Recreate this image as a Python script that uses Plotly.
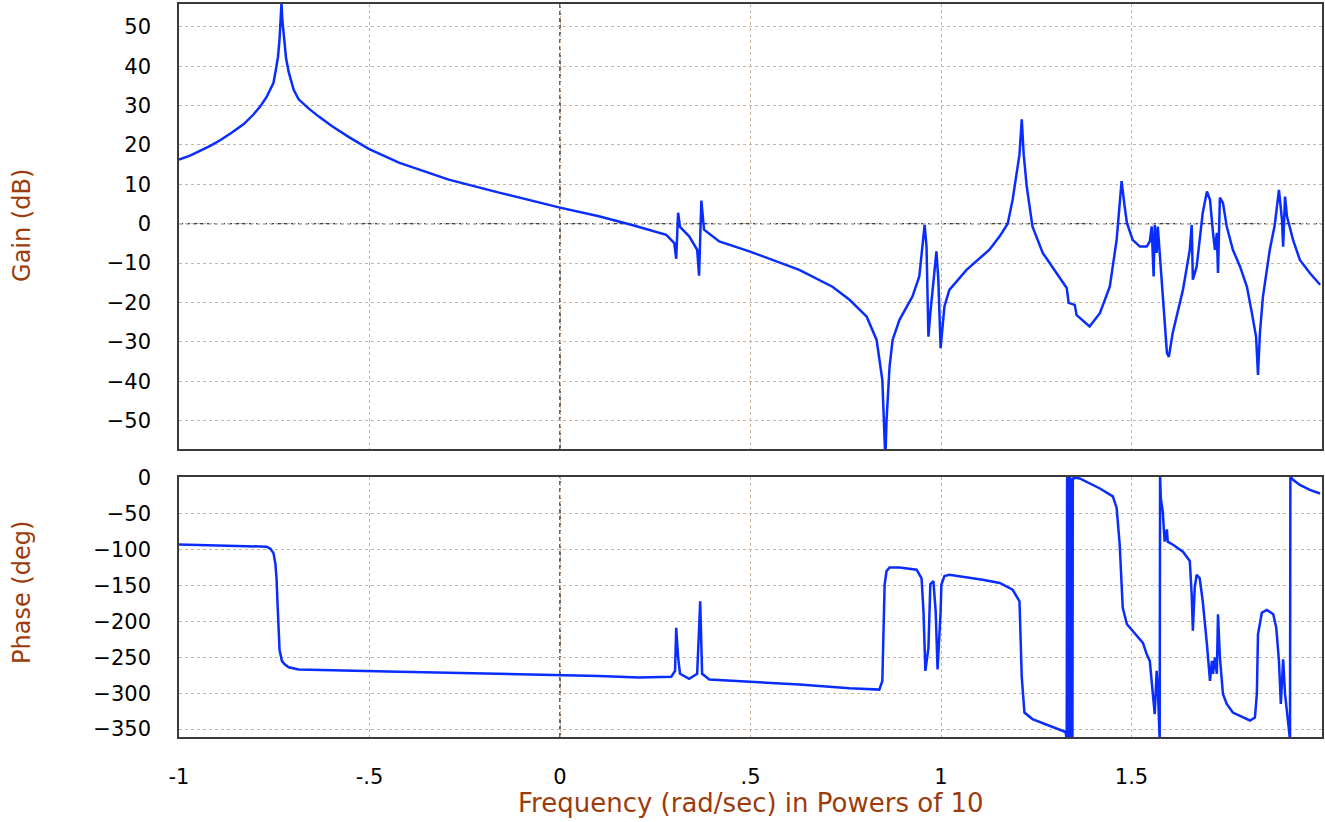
import plotly.graph_objects as go

# ---- Gain (dB) vs log10(frequency) ----
gain_x = [-1.0, -0.971, -0.918, -0.892, -0.862, -0.830, -0.804, -0.786, -0.770, -0.759,
          -0.752, -0.746, -0.740, -0.736, -0.733, -0.731, -0.729, -0.725, -0.719, -0.712,
          -0.699, -0.686, -0.660, -0.633, -0.599, -0.554, -0.502, -0.423, -0.292, -0.160,
          0.0, 0.102, 0.189, 0.279, 0.300, 0.305, 0.310, 0.315, 0.339, 0.360,
          0.365, 0.371, 0.378, 0.418, 0.497, 0.628, 0.715, 0.760, 0.805, 0.831,
          0.846, 0.854, 0.857, 0.865, 0.873, 0.891, 0.925, 0.943, 0.951, 0.957,
          0.962, 0.967, 0.972, 0.983, 0.988, 0.993, 0.999, 1.009, 1.022, 1.067,
          1.127, 1.154, 1.175, 1.188, 1.198, 1.206, 1.212, 1.217, 1.225, 1.240,
          1.267, 1.304, 1.330, 1.335, 1.351, 1.356, 1.390, 1.417, 1.443, 1.461,
          1.469, 1.474, 1.482, 1.488, 1.503, 1.522, 1.540, 1.548, 1.553, 1.558,
          1.561, 1.566, 1.569, 1.574, 1.582, 1.593, 1.598, 1.608, 1.635, 1.653,
          1.658, 1.661, 1.671, 1.687, 1.698, 1.706, 1.714, 1.719, 1.724, 1.727,
          1.732, 1.740, 1.750, 1.766, 1.785, 1.803, 1.816, 1.827, 1.832, 1.837,
          1.845, 1.863, 1.876, 1.887, 1.895, 1.898, 1.903, 1.908, 1.924, 1.942,
          1.968, 1.995]
gain_db = [16.3, 17.3, 19.8, 21.2, 23.1, 25.3, 27.8, 29.9, 32.2, 34.2,
           35.8, 39.0, 42.5, 47.0, 51.0, 56.0, 52.0, 48.0, 42.0, 38.5,
           34.0, 31.6, 29.3, 27.2, 24.8, 22.0, 19.0, 15.5, 11.2, 7.9,
           4.1, 1.9, -0.3, -2.8, -4.9, -8.9, 2.8, -0.8, -3.2, -6.6,
           -13.2, 5.9, -1.5, -4.5, -7.0, -11.7, -16.0, -19.3, -23.6, -29.5,
           -39.7, -60.0, -50.0, -36.3, -29.5, -24.4, -18.5, -13.4, -5.8, -0.3,
           -5.8, -28.7, -22.7, -12.5, -7.0, -14.2, -31.6, -21.0, -16.8, -11.7,
           -6.6, -3.2, 0.0, 6.1, 12.0, 17.6, 26.5, 17.6, 9.5, -0.7,
           -7.4, -12.5, -16.3, -20.1, -20.6, -23.2, -26.1, -22.7, -16.0, -4.1,
           6.1, 10.8, 4.4, 0.2, -4.1, -5.8, -5.8, -4.5, -0.7, -13.4,
           -0.3, -7.4, -0.7, -7.4, -19.3, -32.8, -33.8, -27.8, -16.8, -6.6,
           -0.3, -14.2, -10.9, 2.8, 8.2, 6.1, -2.3, -6.6, -2.3, -12.5,
           6.6, 5.3, -0.7, -6.6, -10.9, -16.0, -22.7, -28.7, -38.4, -27.8,
           -18.5, -6.6, -0.3, 8.6, 1.0, -5.8, 6.9, 1.9, -4.1, -9.2,
           -12.5, -15.5]

# ---- Phase (deg) vs log10(frequency) ----
phase_x = [-1.0, -0.778, -0.770, -0.760, -0.752, -0.747, -0.744, -0.741, -0.738, -0.736,
           -0.730, -0.722, -0.712, -0.686, -0.423, 0.0, 0.102, 0.208, 0.292, 0.302,
           0.305, 0.310, 0.315, 0.339, 0.360, 0.368, 0.373, 0.392, 0.505, 0.628,
           0.760, 0.838, 0.846, 0.852, 0.857, 0.865, 0.891, 0.936, 0.949, 0.954,
           0.959, 0.967, 0.972, 0.980, 0.986, 0.991, 0.999, 1.001, 1.009, 1.022,
           1.109, 1.154, 1.188, 1.206, 1.212, 1.219, 1.240, 1.285, 1.327, 1.330,
           1.331, 1.333, 1.334, 1.337, 1.338, 1.341, 1.342, 1.345, 1.346, 1.348,
           1.353, 1.364, 1.417, 1.451, 1.461, 1.469, 1.477, 1.488, 1.503, 1.530,
           1.540, 1.548, 1.556, 1.561, 1.566, 1.569, 1.574, 1.575, 1.577, 1.582,
           1.587, 1.593, 1.595, 1.608, 1.635, 1.653, 1.658, 1.661, 1.666, 1.671,
           1.679, 1.687, 1.698, 1.706, 1.711, 1.714, 1.719, 1.724, 1.727, 1.732,
           1.740, 1.750, 1.766, 1.811, 1.824, 1.829, 1.832, 1.842, 1.855, 1.872,
           1.880, 1.887, 1.892, 1.898, 1.903, 1.911, 1.916, 1.917, 1.924, 1.942,
           1.968, 1.995]
phase_deg = [-93, -95, -96, -99, -105, -120, -140, -180, -215, -240,
             -255, -260, -264, -267, -270, -274, -276, -278, -277, -269,
             -209, -250, -273, -280, -273, -172, -273, -281, -284, -288,
             -293, -295, -283, -149, -130, -125, -125, -128, -140, -186,
             -269, -237, -148, -144, -186, -267, -186, -149, -137, -135,
             -142, -146.5, -156, -172, -278, -327, -336, -345, -354, -365,
             2, -5, -365, -365, 2, -8, -365, -365, 0, -1,
             0, -1, -15, -26, -42, -93, -181, -204, -213, -230,
             -246, -255, -301, -329, -269, -292, -365, 2, -29, -47,
             -89, -72, -89, -93, -103, -116, -163, -213, -153, -135,
             -140, -172, -232, -283, -255, -273, -250, -273, -190, -250,
             -301, -315, -327, -338, -334, -301, -218, -188, -184, -190,
             -209, -255, -315, -253, -301, -338, -365, 2, -3, -10,
             -17, -22]

x_tickvals = [-1, -0.5, 0, 0.5, 1, 1.5]
x_ticktext = ["-1", "-.5", "0", ".5", "1", "1.5"]
gain_ticks = [50, 40, 30, 20, 10, 0, -10, -20, -30, -40, -50]
phase_ticks = [0, -50, -100, -150, -200, -250, -300, -350]

LINE = "rgb(10,45,255)"
GRID = "rgb(200,180,160)"
FRAME = "#3a3a3a"
BROWN = "#9C3C0C"
FONT = "DejaVu Sans"

fig = go.Figure()
fig.add_trace(go.Scatter(x=gain_x, y=gain_db, mode="lines",
                         line=dict(color=LINE, width=2.5), xaxis="x", yaxis="y",
                         showlegend=False))
fig.add_trace(go.Scatter(x=phase_x, y=phase_deg, mode="lines",
                         line=dict(color=LINE, width=2.5), xaxis="x2", yaxis="y2",
                         showlegend=False))

axis_common = dict(showgrid=True, gridcolor=GRID, griddash="dot", gridwidth=1,
                   zeroline=False, showline=True, linecolor=FRAME, linewidth=1.5,
                   mirror=True, ticks="", automargin=False,
                   tickfont=dict(family=FONT, size=21, color="black"))

DASH = dict(color="black", width=1.2, dash="4px,3px")

fig.update_layout(
    width=1325, height=822,
    margin=dict(l=179, r=3, t=4, b=85, autoexpand=False),
    paper_bgcolor="white", plot_bgcolor="white",
    xaxis=dict(domain=[0, 1], range=[-1, 2], tickvals=x_tickvals, ticktext=x_ticktext,
               showticklabels=False, anchor="y", **axis_common),
    yaxis=dict(domain=[0.3929, 1], range=[-57.2, 55.8], tickvals=gain_ticks,
               ticklabelstandoff=22, anchor="x", **axis_common),
    xaxis2=dict(domain=[0, 1], range=[-1, 2], tickvals=x_tickvals, ticktext=x_ticktext,
                ticklabelstandoff=20, anchor="y2", **axis_common),
    yaxis2=dict(domain=[0, 0.3547], range=[-361, 1], tickvals=phase_ticks,
                ticklabelstandoff=22, anchor="x2", **axis_common),
    shapes=[
        dict(type="line", xref="x", yref="y", x0=-1, x1=2, y0=0, y1=0,
             line=DASH, layer="below"),
        dict(type="line", xref="x", yref="y domain", x0=0, x1=0, y0=0, y1=1,
             line=DASH, layer="below"),
        dict(type="line", xref="x2", yref="y2 domain", x0=0, x1=0, y0=0, y1=1,
             line=DASH, layer="below"),
    ],
    annotations=[
        dict(text="Gain (dB)", xref="paper", yref="paper", x=-0.1374, y=0.6985,
             textangle=-90, showarrow=False, xanchor="center", yanchor="middle",
             font=dict(family=FONT, size=24, color=BROWN)),
        dict(text="Phase (deg)", xref="paper", yref="paper", x=-0.1374, y=0.1978,
             textangle=-90, showarrow=False, xanchor="center", yanchor="middle",
             font=dict(family=FONT, size=24, color=BROWN)),
        dict(text="Frequency (rad/sec) in Powers of 10", xref="paper", yref="paper",
             x=0.5, y=-0.090, showarrow=False, xanchor="center", yanchor="middle",
             font=dict(family=FONT, size=26, color=BROWN)),
    ],
)

fig.write_html("out.html")
